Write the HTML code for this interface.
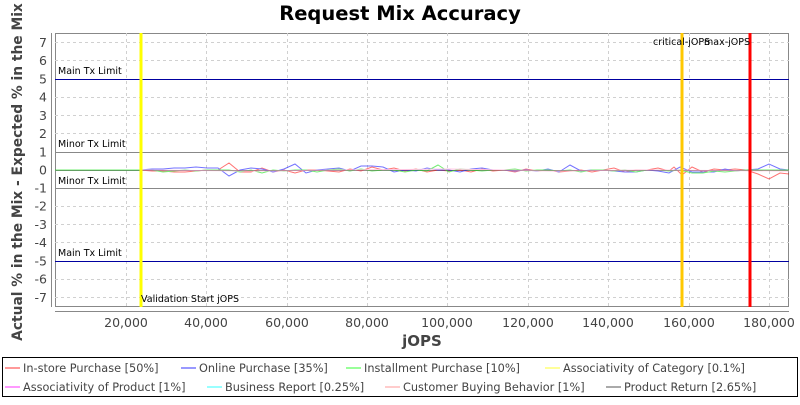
<!DOCTYPE html>
<html><head><style>
body{margin:0;background:#fff;}
svg text{font-family:"DejaVu Sans","Liberation Sans",sans-serif;}
</style></head><body>
<svg width="800" height="400" xmlns="http://www.w3.org/2000/svg">
<rect width="800" height="400" fill="#fff"/>
<text x="400" y="20" text-anchor="middle" font-size="19.5" font-weight="bold" fill="#000">Request Mix Accuracy</text>
<rect x="55.5" y="33.5" width="733" height="273" fill="#fff" stroke="#888"/>
<g stroke="#d0d0d0" stroke-dasharray="3,3" stroke-width="1">
<line x1="126.5" y1="33" x2="126.5" y2="307"/><line x1="206.5" y1="33" x2="206.5" y2="307"/><line x1="287.5" y1="33" x2="287.5" y2="307"/><line x1="367.5" y1="33" x2="367.5" y2="307"/><line x1="447.5" y1="33" x2="447.5" y2="307"/><line x1="528.5" y1="33" x2="528.5" y2="307"/><line x1="608.5" y1="33" x2="608.5" y2="307"/><line x1="689.5" y1="33" x2="689.5" y2="307"/><line x1="769.5" y1="33" x2="769.5" y2="307"/>
<line x1="55" y1="42.5" x2="789" y2="42.5"/><line x1="55" y1="60.5" x2="789" y2="60.5"/><line x1="55" y1="97.5" x2="789" y2="97.5"/><line x1="55" y1="115.5" x2="789" y2="115.5"/><line x1="55" y1="133.5" x2="789" y2="133.5"/><line x1="55" y1="206.5" x2="789" y2="206.5"/><line x1="55" y1="224.5" x2="789" y2="224.5"/><line x1="55" y1="242.5" x2="789" y2="242.5"/><line x1="55" y1="279.5" x2="789" y2="279.5"/><line x1="55" y1="297.5" x2="789" y2="297.5"/>
</g>
<line x1="55" y1="79.5" x2="789" y2="79.5" stroke="#0000a0"/>
<line x1="55" y1="261.5" x2="789" y2="261.5" stroke="#0000a0"/>
<line x1="55" y1="152.5" x2="789" y2="152.5" stroke="#888"/>
<line x1="55" y1="188.5" x2="789" y2="188.5" stroke="#888"/>
<line x1="55" y1="170.5" x2="789" y2="170.5" stroke="#888"/>
<g fill="none" stroke-width="1" opacity="0.55">
<polyline stroke="#ff0000" points="55,170 140,170 152,171 163,171 174,172 185,172 196,171 207,170 218,170 229,163 240,172 251,172 262,168 273,172 284,170 295,173 306,170 317,170 328,171 339,172 350,169 361,171 372,167 383,170 394,168 405,171 416,169 427,172 438,170 449,171 460,170 471,172 482,169 493,171 504,170 515,172 526,169 537,171 548,170 559,172 570,171 581,170 592,172 603,170 614,168 625,172 636,170 647,170 658,168 669,171 674,167 682,175 692,167 703,172 714,169 725,170 735,169 746,170 758,174 769,179 780,173 789,174"/>
<polyline stroke="#0000ff" points="55,170 140,170 152,169 163,169 174,168 185,168 196,167 207,168 218,168 229,176 240,170 251,168 262,169 273,172 284,169 295,164 306,173 317,170 328,169 339,168 350,171 361,166 372,166 383,167 394,172 405,170 416,171 427,168 438,170 449,170 460,172 471,169 482,168 493,170 504,170 515,171 526,170 537,171 548,169 559,172 570,165 581,171 592,170 603,170 614,171 625,172 636,172 647,170 658,171 669,173 680,167 692,172 703,172 714,172 725,169 735,171 746,170 758,169 769,164 780,169 789,170"/>
<polyline stroke="#00e000" points="55,170 140,170 152,170 163,172 174,171 185,170 196,171 207,170 218,170 229,170 240,172 251,170 262,173 273,170 284,171 295,170 306,170 317,172 328,170 339,169 350,171 361,169 372,171 383,170 394,170 405,172 416,170 427,171 438,165 449,172 460,169 471,170 482,171 493,170 504,170 515,169 526,171 537,170 548,170 559,171 570,170 581,172 592,170 603,170 614,171 625,170 636,172 647,170 658,170 669,171 680,170 692,173 703,173 714,171 725,172 735,171 746,170 758,170 769,170 780,170 789,170"/>
<polyline stroke="#ff99cc" points="140,170 250,171 350,170 450,169 550,171 650,170 789,171"/>
</g>
<rect x="139.5" y="33" width="3" height="274" fill="#ffff00"/>
<rect x="680.5" y="33" width="3" height="274" fill="#ffc800"/>
<rect x="748.5" y="33" width="3" height="274" fill="#ff0000"/>
<g font-size="9.5" fill="#000">
<text x="58" y="74">Main Tx Limit</text>
<text x="58" y="147">Minor Tx Limit</text>
<text x="58" y="184">Minor Tx Limit</text>
<text x="58" y="256">Main Tx Limit</text>
<text x="141" y="302">Validation Start jOPS</text>
<text x="653" y="45">critical-jOPS</text>
<text x="704" y="45">max-jOPS</text>
</g>
<line x1="55" y1="311.5" x2="789" y2="311.5" stroke="#888"/>
<line x1="51.5" y1="33" x2="51.5" y2="307" stroke="#888"/>
<g font-size="12.5" fill="#444" text-anchor="end">
<text x="47" y="47">7</text><text x="47" y="65">6</text><text x="47" y="83.5">5</text><text x="47" y="101.5">4</text><text x="47" y="120">3</text><text x="47" y="138">2</text><text x="47" y="156.5">1</text><text x="47" y="174.5">0</text><text x="47" y="192.5">-1</text><text x="47" y="210.5">-2</text><text x="47" y="229">-3</text><text x="47" y="247">-4</text><text x="47" y="265.5">-5</text><text x="47" y="283.5">-6</text><text x="47" y="302">-7</text>
</g>
<g font-size="12.5" fill="#444" text-anchor="middle">
<text x="126" y="327">20,000</text><text x="206" y="327">40,000</text><text x="287" y="327">60,000</text><text x="367" y="327">80,000</text><text x="447" y="327">100,000</text><text x="528" y="327">120,000</text><text x="608" y="327">140,000</text><text x="689" y="327">160,000</text><text x="769" y="327">180,000</text>
</g>
<text x="422" y="346" text-anchor="middle" font-size="15" font-weight="bold" fill="#444">jOPS</text>
<text transform="translate(22,172) rotate(-90)" text-anchor="middle" font-size="13.8" font-weight="bold" fill="#444">Actual % in the Mix - Expected % in the Mix</text>
<rect x="2.5" y="357.5" width="795" height="39" fill="#fff" stroke="#000"/>
<g font-size="11.3" fill="#444">
<line x1="5" y1="368" x2="20" y2="368" stroke="#ff9999" stroke-width="2"/><text x="23" y="372">In-store Purchase [50%]</text>
<line x1="181" y1="368" x2="196" y2="368" stroke="#9999ff" stroke-width="2"/><text x="199" y="372">Online Purchase [35%]</text>
<line x1="346" y1="368" x2="361" y2="368" stroke="#99ff99" stroke-width="2"/><text x="364" y="372">Installment Purchase [10%]</text>
<line x1="545" y1="368" x2="560" y2="368" stroke="#ffff99" stroke-width="2"/><text x="563" y="372">Associativity of Category [0.1%]</text>
<line x1="5" y1="387" x2="20" y2="387" stroke="#ff99ff" stroke-width="2"/><text x="23" y="391">Associativity of Product [1%]</text>
<line x1="207" y1="387" x2="222" y2="387" stroke="#99ffff" stroke-width="2"/><text x="225" y="391">Business Report [0.25%]</text>
<line x1="385" y1="387" x2="400" y2="387" stroke="#ffcccc" stroke-width="2"/><text x="403" y="391">Customer Buying Behavior [1%]</text>
<line x1="606" y1="387" x2="621" y2="387" stroke="#aaaaaa" stroke-width="2"/><text x="624" y="391">Product Return [2.65%]</text>
</g>
</svg>
</body></html>
